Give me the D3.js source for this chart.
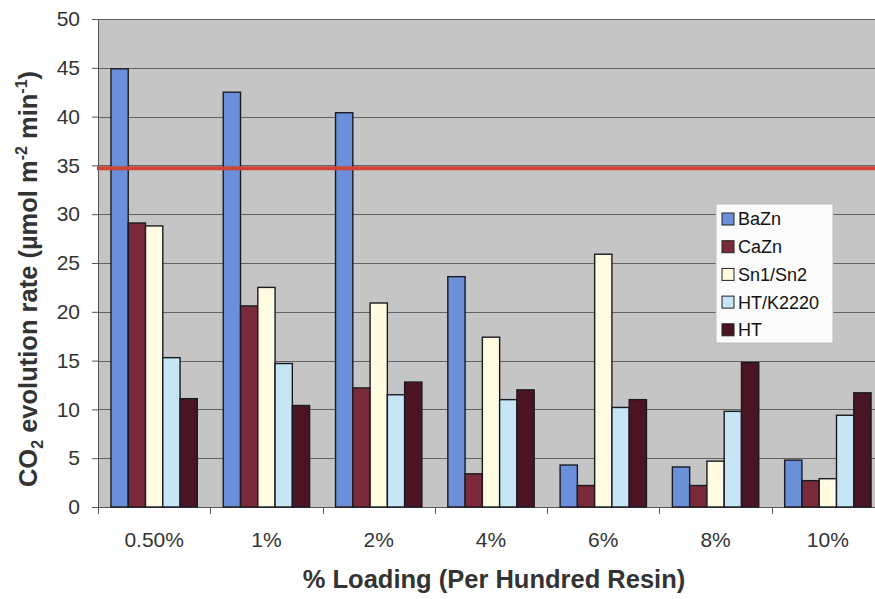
<!DOCTYPE html>
<html>
<head>
<meta charset="utf-8">
<script src="https://cdn.jsdelivr.net/npm/d3@7"></script>
<style>
  html, body { margin: 0; padding: 0; background: #fff; }
  svg { display: block; font-family: Arial, "Liberation Sans", sans-serif; }
</style>
</head>
<body>
<svg id="chart" width="875" height="599"></svg>
<script>
// Loading levels (per hundred resin)
const categories = ["0.50%", "1%", "2%", "4%", "6%", "8%", "10%"];
const seriesNames = ["BaZn", "CaZn", "Sn1/Sn2", "HT/K2220", "HT"];
// CO2 evolution rate for each stabiliser system, µmol m^-2 min^-1
const BaZn    = [44.9, 42.5, 40.4, 23.6, 4.3, 4.1, 4.8];
const CaZn    = [29.1, 20.6, 12.2, 3.4, 2.2, 2.2, 2.7];
const Sn1Sn2  = [28.8, 22.5, 20.9, 17.4, 25.9, 4.7, 2.9];
const HTK2220 = [15.3, 14.7, 11.5, 11.0, 10.2, 9.8, 9.4];
const HT      = [11.1, 10.4, 12.8, 12.0, 11.0, 14.8, 11.7];
const referenceLevel = 34.7;
const yTicks = [0, 5, 10, 15, 20, 25, 30, 35, 40, 45, 50];

const seriesValues = [BaZn, CaZn, Sn1Sn2, HTK2220, HT];
const colors = ["#6b8fd9", "#7a2a38", "#fffbe0", "#c6e6f5", "#4b1422"];
const FONT = "Arial, 'Liberation Sans', sans-serif";

const svg = d3.select("#chart");
const plot = { left: 98, right: 884, top: 19, bottom: 507 };

const x = d3.scaleBand().domain(categories).range([plot.left, plot.right]).paddingInner(0).paddingOuter(0);
// 150% gap between clusters: each cluster of 5 bars takes 5/6.5 of a band
const inner = d3.scaleBand().domain(seriesNames)
  .range([x.bandwidth() * 0.75 / 6.5, x.bandwidth() - x.bandwidth() * 0.75 / 6.5]);
const y = d3.scaleLinear().domain([0, 50]).range([plot.bottom, plot.top]);

// plot background
svg.append("rect")
  .attr("x", plot.left).attr("y", plot.top)
  .attr("width", plot.right - plot.left).attr("height", plot.bottom - plot.top)
  .attr("fill", "#c5c5c5");

// horizontal gridlines
svg.append("g").selectAll("line").data(yTicks.filter(d => d > 0)).join("line")
  .attr("x1", plot.left).attr("x2", plot.right)
  .attr("y1", d => Math.round(y(d)) + 0.5).attr("y2", d => Math.round(y(d)) + 0.5)
  .attr("stroke", "#626262").attr("stroke-width", 1);

// y axis
const yAxis = svg.append("g").attr("transform", `translate(${plot.left},0)`)
  .call(d3.axisLeft(y).tickValues(yTicks).tickSize(6).tickPadding(12));
yAxis.select(".domain").attr("stroke", "#555");
yAxis.selectAll(".tick line").attr("stroke", "#555");
yAxis.selectAll(".tick text").attr("font-size", 21).attr("fill", "#333").attr("font-family", FONT);

// x axis with ticks between categories
const xAxis = svg.append("g").attr("transform", `translate(0,${plot.bottom})`)
  .call(d3.axisBottom(x).tickSize(0).tickPadding(25));
xAxis.select(".domain").attr("stroke", "#555");
xAxis.selectAll(".tick text").attr("font-size", 21).attr("fill", "#333").attr("font-family", FONT);
svg.append("g").selectAll("line").data(categories).join("line")
  .attr("x1", d => Math.round(x(d)) + 0.5).attr("x2", d => Math.round(x(d)) + 0.5)
  .attr("y1", plot.bottom).attr("y2", plot.bottom + 7)
  .attr("stroke", "#555");

// bars
const groups = svg.append("g").selectAll("g").data(categories).join("g")
  .attr("transform", d => `translate(${x(d)},0)`);
groups.selectAll("rect")
  .data((c, i) => seriesNames.map((s, j) => ({ s, j, v: seriesValues[j][i] })))
  .join("rect")
  .attr("x", d => inner(d.s))
  .attr("width", inner.bandwidth())
  .attr("y", d => y(d.v))
  .attr("height", d => y(0) - y(d.v))
  .attr("fill", d => colors[d.j])
  .attr("stroke", "#1a1a22").attr("stroke-width", 1.4);

// reference level line
svg.append("line")
  .attr("x1", plot.left - 1).attr("x2", plot.right)
  .attr("y1", y(referenceLevel)).attr("y2", y(referenceLevel))
  .attr("stroke", "#cf4434").attr("stroke-width", 4);

// legend
const legend = svg.append("g").attr("transform", "translate(716,204)");
legend.append("rect").attr("width", 117).attr("height", 139)
  .attr("fill", "#fbfbfb").attr("stroke", "#bdbdbd");
const item = legend.selectAll("g").data(seriesNames).join("g")
  .attr("transform", (d, i) => `translate(6,${15 + i * 27.7})`);
item.append("rect").attr("x", 0).attr("y", -6).attr("width", 12).attr("height", 12)
  .attr("fill", (d, i) => colors[i]).attr("stroke", "#222").attr("stroke-width", 1);
item.append("text").attr("x", 16).attr("y", 0).attr("dy", "0.36em")
  .attr("font-size", 18).attr("fill", "#111").text(d => d);

// axis titles
svg.append("text")
  .attr("x", 494).attr("y", 588)
  .attr("text-anchor", "middle").attr("font-size", 25.5).attr("font-weight", "bold").attr("fill", "#333")
  .text("% Loading (Per Hundred Resin)");

const yt = svg.append("text")
  .attr("transform", "translate(37,279) rotate(-90)")
  .attr("text-anchor", "middle").attr("font-size", 25.5).attr("font-weight", "bold").attr("fill", "#333");
yt.append("tspan").text("CO");
yt.append("tspan").attr("font-size", 16).attr("dy", 6).text("2");
yt.append("tspan").attr("dy", -6).text(" evolution rate (µmol m");
yt.append("tspan").attr("font-size", 16).attr("dy", -10).text("-2");
yt.append("tspan").attr("dy", 10).text(" min");
yt.append("tspan").attr("font-size", 16).attr("dy", -10).text("-1");
yt.append("tspan").attr("dy", 10).text(")");
</script>
</body>
</html>
